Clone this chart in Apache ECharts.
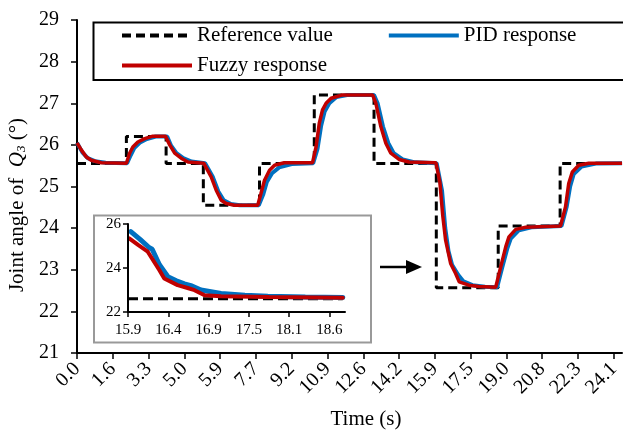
<!DOCTYPE html>
<html><head><meta charset="utf-8">
<script src="https://cdn.jsdelivr.net/npm/echarts@6/dist/echarts.min.js"></script>
<style>html,body{margin:0;padding:0;background:#fff}#c{width:623px;height:431px}</style>
</head><body><div id="c"></div><script>
// Category tick labels (time, s) — data x values are positions in tick units
const mainTickLabels = ['0.0','1.6','3.3','5.0','5.9','7.7','9.2','10.9','12.6','14.2','15.9','17.5','19.0','20.8','22.3','24.1'];
const insetTickLabels = ['15.9','16.4','16.9','17.5','18.1','18.6'];
const yTicks = [21, 29, 1];

const referenceValue = [[0,25.55],[1.38,25.55],[1.38,26.2],[2.49,26.2],[2.49,25.55],[3.53,25.55],[3.53,24.55],[5.10,24.55],[5.10,25.55],[6.63,25.55],[6.63,27.2],[8.30,27.2],[8.30,25.55],[10.04,25.55],[10.04,22.57],[11.77,22.57],[11.77,24.05],[13.50,24.05],[13.50,25.55],[15.23,25.55]];
const pidResponse = [[0,26.05],[0.15,25.82],[0.30,25.68],[0.50,25.61],[0.80,25.57],[1.40,25.56],[1.50,25.75],[1.60,25.92],[1.75,26.05],[1.95,26.14],[2.20,26.2],[2.52,26.2],[2.63,25.98],[2.78,25.80],[2.97,25.68],[3.20,25.6],[3.58,25.56],[3.80,25.22],[3.95,24.88],[4.10,24.67],[4.30,24.58],[4.55,24.55],[5.08,24.55],[5.20,24.8],[5.30,25.1],[5.45,25.32],[5.65,25.46],[6.0,25.54],[6.60,25.56],[6.72,25.9],[6.82,26.45],[6.92,26.8],[7.05,27.0],[7.25,27.15],[7.55,27.2],[8.30,27.2],[8.40,27.0],[8.55,26.44],[8.70,26.04],[8.85,25.80],[9.10,25.65],[9.45,25.58],[10.05,25.56],[10.20,24.9],[10.29,24.0],[10.38,23.45],[10.48,23.12],[10.65,22.88],[10.80,22.72],[11.05,22.63],[11.40,22.59],[11.74,22.58],[11.88,23.05],[12.02,23.5],[12.12,23.75],[12.35,23.95],[12.70,24.02],[13.54,24.05],[13.68,24.5],[13.78,25.0],[13.88,25.3],[14.10,25.48],[14.50,25.55],[15.23,25.56]];
const fuzzyResponse = [[0,26.05],[0.12,25.88],[0.26,25.71],[0.40,25.63],[0.68,25.57],[1.38,25.56],[1.47,25.80],[1.56,25.95],[1.70,26.07],[1.89,26.15],[2.12,26.21],[2.47,26.21],[2.59,26.0],[2.73,25.80],[2.91,25.68],[3.10,25.59],[3.54,25.56],[3.75,25.23],[3.89,24.91],[4.03,24.67],[4.17,24.59],[4.40,24.55],[5.05,24.55],[5.14,24.83],[5.24,25.15],[5.38,25.39],[5.52,25.51],[5.79,25.57],[6.58,25.57],[6.68,25.95],[6.77,26.52],[6.86,26.84],[6.96,27.0],[7.10,27.12],[7.42,27.2],[8.26,27.2],[8.35,27.0],[8.49,26.44],[8.63,26.04],[8.77,25.80],[9.00,25.65],[9.28,25.59],[10.03,25.57],[10.14,25.1],[10.22,24.3],[10.30,23.71],[10.44,23.15],[10.58,22.91],[10.68,22.71],[10.95,22.63],[11.23,22.60],[11.70,22.58],[11.84,23.07],[11.98,23.55],[12.07,23.79],[12.26,23.97],[12.54,24.02],[13.51,24.05],[13.65,24.51],[13.74,25.07],[13.84,25.35],[14.02,25.51],[14.30,25.56],[15.23,25.56]];

const insetReference = [[0,22.6],[5.33,22.6]];
const insetPid = [[0.07,25.65],[0.30,25.3],[0.53,24.92],[0.60,24.85],[0.78,24.15],[0.99,23.6],[1.20,23.42],[1.40,23.28],[1.56,23.2],[1.81,23.0],[2.31,22.84],[2.90,22.76],[3.47,22.72],[4.40,22.68],[5.33,22.66]];
const insetFuzzy = [[0.03,25.35],[0.25,25.05],[0.49,24.74],[0.78,23.9],[0.90,23.52],[1.23,23.22],[1.48,23.09],[1.65,22.99],[1.90,22.76],[2.31,22.72],[3.50,22.68],[5.33,22.65]];

const FONT = "'Liberation Serif','Times New Roman',serif";
const BLUE = '#0070C0', RED = '#C00000';

const chart = echarts.init(document.getElementById('c'));
const tickFmt = (labels) => (v) => { const r = Math.round(v); return Math.abs(v - r) < 1e-6 && labels[r] !== undefined ? labels[r] : ''; };

chart.setOption({
  animation: false,
  backgroundColor: '#fff',
  textStyle: { fontFamily: FONT, color: '#000' },
  grid: [
    { left: 77, top: 20, right: 0, bottom: 78 },
    { left: 128, top: 224, width: 217, height: 88, z: 5 }
  ],
  xAxis: [
    { type: 'value', gridIndex: 0, min: 0, max: 15.23, interval: 1,
      axisLine: { lineStyle: { color: '#000', width: 2 } },
      axisTick: { show: true, length: 6, lineStyle: { color: '#000', width: 1.5 } },
      axisLabel: { rotate: 45, margin: 13, fontSize: 20, color: '#000', fontFamily: FONT, formatter: tickFmt(mainTickLabels), showMaxLabel: false },
      splitLine: { show: false } },
    { type: 'value', gridIndex: 1, min: 0, max: 5.385, interval: 1, z: 10,
      axisLine: { lineStyle: { color: '#000', width: 2 } },
      axisTick: { show: true, length: 5, lineStyle: { color: '#000', width: 1.5 } },
      axisLabel: { margin: 11, fontSize: 15, color: '#000', fontFamily: FONT, formatter: tickFmt(insetTickLabels), showMaxLabel: false },
      splitLine: { show: false } }
  ],
  yAxis: [
    { type: 'value', gridIndex: 0, min: yTicks[0], max: yTicks[1], interval: yTicks[2],
      axisLine: { show: true, lineStyle: { color: '#000', width: 2 } },
      axisTick: { show: true, length: 6, lineStyle: { color: '#000', width: 1.5 } },
      axisLabel: { margin: 18, fontSize: 20, color: '#000', fontFamily: FONT },
      splitLine: { show: false } },
    { type: 'value', gridIndex: 1, min: 22, max: 26, interval: 2, z: 10,
      axisLine: { show: true, lineStyle: { color: '#000', width: 2 } },
      axisTick: { show: true, length: 5, lineStyle: { color: '#000', width: 1.5 } },
      axisLabel: { margin: 7, fontSize: 15, color: '#000', fontFamily: FONT },
      splitLine: { show: false } }
  ],
  legend: [
    { data: ['Reference value', 'PID response'], left: 120, top: 25, padding: 0, itemWidth: 70, itemHeight: 14, itemGap: 54,
      itemStyle: { opacity: 0 }, lineStyle: { width: 4 },
      textStyle: { fontSize: 21, fontFamily: FONT, color: '#000' }, z: 10 },
    { data: ['Fuzzy response'], left: 120, top: 55, padding: 0, itemWidth: 70, itemHeight: 14,
      itemStyle: { opacity: 0 }, lineStyle: { width: 4 },
      textStyle: { fontSize: 21, fontFamily: FONT, color: '#000' }, z: 10 }
  ],
  graphic: [
    { type: 'rect', z: 0, shape: { x: 93.5, y: 22.5, width: 560, height: 57.5 }, style: { fill: '#fff', stroke: '#000', lineWidth: 2 } },
    { type: 'rect', z: 0, shape: { x: 94, y: 215.5, width: 277, height: 127 }, style: { fill: '#fff', stroke: '#999', lineWidth: 2 } },
    { type: 'line', z: 10, shape: { x1: 380, y1: 267, x2: 410, y2: 267 }, style: { stroke: '#000', lineWidth: 2.5 } },
    { type: 'polygon', z: 10, shape: { points: [[406, 260], [422, 267], [406, 274]] }, style: { fill: '#000' } },
    { type: 'text', z: 10, x: 17, y: 205, rotation: Math.PI / 2,
      style: { text: '{a|Joint angle of  }{q|Q}{s|3}{a| (°)}', align: 'center', verticalAlign: 'middle',
        rich: { a: { fontSize: 21, fontFamily: FONT, fill: '#000' }, q: { fontSize: 21, fontFamily: FONT, fontStyle: 'italic', fill: '#000' },
                s: { fontSize: 13, fontFamily: FONT, fontStyle: 'italic', fill: '#000', padding: [10, 0, 0, 0] } } } },
    { type: 'text', z: 10, x: 366, y: 419, style: { text: 'Time (s)', align: 'center', verticalAlign: 'middle', fontSize: 21, fontFamily: FONT, fill: '#000' } }
  ],
  series: [
    { name: 'Reference value', type: 'line', xAxisIndex: 0, yAxisIndex: 0, data: referenceValue, showSymbol: false, symbol: 'none', z: 2,
      lineStyle: { color: '#000', width: 3, type: [9, 5] }, itemStyle: { color: '#000' } },
    { name: 'PID response', type: 'line', xAxisIndex: 0, yAxisIndex: 0, data: pidResponse, showSymbol: false, symbol: 'none', z: 3,
      lineStyle: { color: BLUE, width: 4 }, itemStyle: { color: BLUE } },
    { name: 'Fuzzy response', type: 'line', xAxisIndex: 0, yAxisIndex: 0, data: fuzzyResponse, showSymbol: false, symbol: 'none', z: 4,
      lineStyle: { color: RED, width: 3.5 }, itemStyle: { color: RED } },
    { name: 'Reference value', type: 'line', xAxisIndex: 1, yAxisIndex: 1, data: insetReference, showSymbol: false, symbol: 'none', z: 6,
      lineStyle: { color: '#000', width: 3, type: [10, 5] }, itemStyle: { color: '#000' } },
    { name: 'PID response', type: 'line', xAxisIndex: 1, yAxisIndex: 1, data: insetPid, showSymbol: false, symbol: 'none', z: 7,
      lineStyle: { color: BLUE, width: 5, cap: 'round' }, itemStyle: { color: BLUE } },
    { name: 'Fuzzy response', type: 'line', xAxisIndex: 1, yAxisIndex: 1, data: insetFuzzy, showSymbol: false, symbol: 'none', z: 8,
      lineStyle: { color: RED, width: 4, cap: 'round' }, itemStyle: { color: RED } }
  ]
});
</script></body></html>
